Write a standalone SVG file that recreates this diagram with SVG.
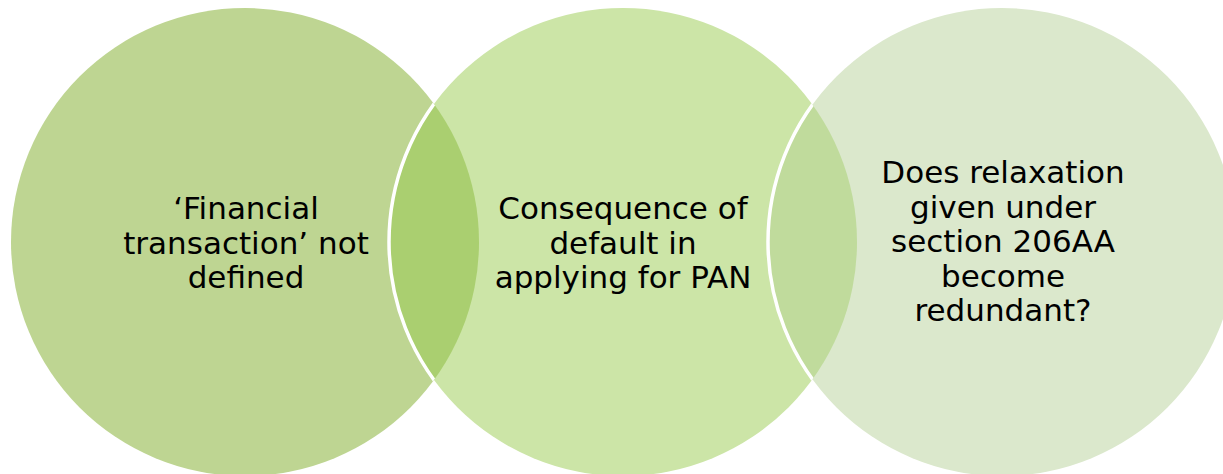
<svg xmlns="http://www.w3.org/2000/svg" width="1223" height="474" viewBox="0 0 1223 474">
<style>
.t{font-family:"DejaVu Sans","Verdana",sans-serif;font-size:31px;fill:#000;text-anchor:middle}
.edge{fill:none;stroke:#fff;stroke-width:3.5}
</style>
<defs>
<clipPath id="c1"><circle cx="245" cy="242" r="234"/></clipPath>
<clipPath id="c2"><circle cx="623" cy="242" r="234"/></clipPath>
</defs>
<rect width="1223" height="474" fill="#fff"/>
<g id="node1">
<circle cx="245" cy="242" r="234" fill="#bed592"/>
</g>
<g id="node2">
<circle cx="623" cy="242" r="234" fill="#cce5a7"/>
<circle cx="623" cy="242" r="234" fill="#aacf70" clip-path="url(#c1)"/>
<circle class="edge" cx="623" cy="242" r="234" clip-path="url(#c1)"/>
</g>
<g id="node3">
<circle cx="1002" cy="242" r="234" fill="#dbe8cc"/>
<circle cx="1002" cy="242" r="234" fill="#c0db9c" clip-path="url(#c2)"/>
<circle class="edge" cx="1002" cy="242" r="234" clip-path="url(#c2)"/>
</g>
<g id="connectors"></g>
<g id="labels">
<text class="t" x="246" y="219">‘Financial</text>
<text class="t" x="246" y="253.5">transaction’ not</text>
<text class="t" x="246" y="288">defined</text>
<text class="t" x="623" y="219">Consequence of</text>
<text class="t" x="623" y="253.5">default in</text>
<text class="t" x="623" y="288">applying for PAN</text>
<text class="t" x="1003" y="183">Does relaxation</text>
<text class="t" x="1003" y="217.5">given under</text>
<text class="t" x="1003" y="252">section 206AA</text>
<text class="t" x="1003" y="286.5">become</text>
<text class="t" x="1003" y="321">redundant?</text>
</g>
</svg>
